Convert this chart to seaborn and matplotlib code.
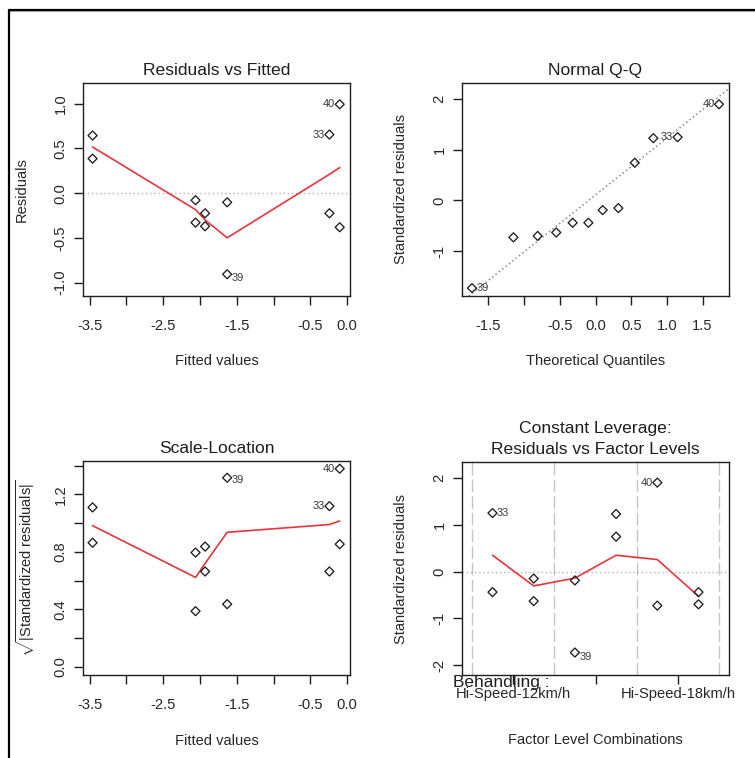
import numpy as np
import pandas as pd
import matplotlib
matplotlib.use("Agg")
import matplotlib.pyplot as plt
from matplotlib.lines import Line2D
import seaborn as sns

# ---- model diagnostics (one entry per observation, grouped by factor-level combination) ----
fitted = [-0.24, -0.24, -2.06, -2.06, -1.63, -1.63, -3.46, -3.46, -0.10, -0.10, -1.93, -1.93]
residuals = [0.654, -0.226, -0.080, -0.330, -0.103, -0.907, 0.643, 0.385, 0.992, -0.382, -0.226, -0.371]
std_residuals = [1.25, -0.44, -0.15, -0.632, -0.19, -1.73, 1.23, 0.745, 1.90, -0.728, -0.44, -0.70]
factor_combo = [0, 0, 1, 1, 2, 2, 3, 3, 4, 4, 5, 5]
obs_labels = ["33", "", "", "", "", "39", "", "", "40", "", "", ""]

# normal scores for 12 observations
theoretical_q = [-1.73, -1.15, -0.81, -0.55, -0.32, -0.10, 0.10, 0.32, 0.55, 0.81, 1.15, 1.73]

# lowess smooths
smooth_x = [-3.46, -2.06, -1.93, -1.63, -0.24, -0.10]
smooth_resid = [0.515, -0.185, -0.30, -0.50, 0.21, 0.285]
smooth_scale = [0.982, 0.622, 0.72, 0.936, 0.99, 1.015]
smooth_combo_x = [0, 1, 2, 3, 4, 5]
smooth_combo = [0.348, -0.307, -0.14, 0.348, 0.256, -0.528]

level_labels = ["Hi-Speed-12km/h", "", "Hi-Speed-18km/h"]
factor_name = "Behandling"

# ---- styling ----
sns.set_style("ticks")
plt.rcParams["font.family"] = ["Liberation Sans", "DejaVu Sans"]
plt.rcParams["mathtext.fontset"] = "custom"
plt.rcParams["mathtext.rm"] = "Liberation Sans"
plt.rcParams["mathtext.it"] = "Liberation Sans:italic"

INK = "#1e1e1e"
TXT = "#262626"
RED = "#e2363c"
GREY = "#b4b4b4"

df = pd.DataFrame({
    "fitted": fitted,
    "resid": residuals,
    "std": std_residuals,
    "combo": factor_combo,
    "label": obs_labels,
})
df["sqrt_abs"] = np.sqrt(np.abs(df["std"]))

qq = df.sort_values("std", kind="stable").reset_index(drop=True)
qq["theo"] = theoretical_q

fig = plt.figure(figsize=(7.55, 7.58), dpi=100)
W, H = 755, 758


def add_axes(left, top, right, bottom):
    return fig.add_axes([left / W, (H - bottom) / H, (right - left) / W, (bottom - top) / H])


def r_style(ax, xticks, xlabels, yticks, ylabels, xpad=10.0):
    for s in ax.spines.values():
        s.set_visible(True)
        s.set_color(INK)
        s.set_linewidth(1.0)
    ax.set_xticks(xticks)
    ax.set_xticklabels(xlabels)
    ax.set_yticks(yticks)
    ax.set_yticklabels(ylabels)
    ax.tick_params(direction="out", length=6.5, width=1.0, color=INK,
                   labelsize=10.6, labelcolor=TXT)
    ax.tick_params(axis="x", pad=xpad)
    ax.tick_params(axis="y", pad=4.5)
    plt.setp(ax.get_yticklabels(), rotation=90, va="center", ha="right")


def titles(ax, title_lines, xlabel, ylabel, ylabel_x=-0.23):
    n = len(title_lines)
    for i, line in enumerate(title_lines):
        ax.text(0.5, 1 + (12.5 + 21 * (n - 1 - i)) / 213, line, transform=ax.transAxes,
                ha="center", va="center", fontsize=12.6, color=INK)
    ax.set_xlabel(xlabel, fontsize=10.5, color=TXT, va="center")
    ax.xaxis.set_label_coords(0.5, -65.5 / 213)
    ax.set_ylabel(ylabel, fontsize=10.5, color=TXT, va="center")
    ax.yaxis.set_label_coords(ylabel_x, 0.5)


def points(ax, data, x, y):
    sns.scatterplot(data=data, x=x, y=y, ax=ax, marker="D", s=21,
                    facecolor="none", edgecolor=INK, linewidth=0.95,
                    legend=False, zorder=4)


def tag(ax, x, y, text, side, dy=0.0):
    dx = -3.2 if side == "left" else 3.2
    ax.annotate(text, (x, y), xytext=(dx, dy), textcoords="offset points",
                ha="right" if side == "left" else "left", va="center",
                fontsize=7.9, color="#3a3a3a")


def tag_all(ax, data, x, y, sides):
    for _, row in data[data["label"] != ""].iterrows():
        side, dy = sides[row["label"]]
        tag(ax, row[x], row[y], row["label"], side, dy)


fit_ticks = [-3.5, -3.0, -2.5, -2.0, -1.5, -1.0, -0.5, 0.0]
fit_labels = ["-3.5", "", "-2.5", "", "-1.5", "", "-0.5", "0.0"]

# ---- Residuals vs Fitted ----
ax1 = add_axes(83, 83, 350, 296)
ax1.axhline(0, color=GREY, lw=1.0, ls=(0, (1, 2)), zorder=1)
sns.lineplot(x=smooth_x, y=smooth_resid, ax=ax1, color=RED, lw=1.2, sort=False,
             estimator=None, zorder=3)
points(ax1, df, "fitted", "resid")
tag_all(ax1, df, "fitted", "resid", {"40": ("left", 0), "33": ("left", 0), "39": ("right", -3)})
ax1.set_xlim(-3.59, 0.04)
ax1.set_ylim(-1.15, 1.23)
r_style(ax1, fit_ticks, fit_labels, [-1.0, -0.5, 0.0, 0.5, 1.0],
        ["-1.0", "-0.5", "0.0", "0.5", "1.0"])
titles(ax1, ["Residuals vs Fitted"], "Fitted values", "Residuals")

# ---- Normal Q-Q ----
ax2 = add_axes(462, 83, 729, 296)
q25, q75 = np.quantile(qq["std"], [0.25, 0.75])
z = 0.6744898
slope = (q75 - q25) / (2 * z)
intercept = (q25 + q75) / 2
ax2.axline((0, intercept), slope=slope, color="#8a8a8a", lw=1.1, ls=(0, (1, 1.8)), zorder=1)
points(ax2, qq, "theo", "std")
tag_all(ax2, qq, "theo", "std", {"40": ("left", 0), "33": ("left", 0), "39": ("right", 0)})
ax2.set_xlim(-1.87, 1.87)
ax2.set_ylim(-1.886, 2.32)
r_style(ax2, [-1.5, -1.0, -0.5, 0.0, 0.5, 1.0, 1.5],
        ["-1.5", "", "-0.5", "0.0", "0.5", "1.0", "1.5"],
        [-1, 0, 1, 2], ["-1", "0", "1", "2"])
titles(ax2, ["Normal Q-Q"], "Theoretical Quantiles", "Standardized residuals")

# ---- Scale-Location ----
ax3 = add_axes(83, 461, 350, 675)
sns.lineplot(x=smooth_x, y=smooth_scale, ax=ax3, color=RED, lw=1.2, sort=False,
             estimator=None, zorder=3)
points(ax3, df, "fitted", "sqrt_abs")
tag_all(ax3, df, "fitted", "sqrt_abs", {"40": ("left", 0), "33": ("left", 0), "39": ("right", -1.5)})
ax3.set_xlim(-3.59, 0.04)
ax3.set_ylim(-0.057, 1.432)
r_style(ax3, fit_ticks, fit_labels, [0.0, 0.2, 0.4, 0.6, 0.8, 1.0, 1.2, 1.4],
        ["0.0", "", "0.4", "", "0.8", "", "1.2", ""])
titles(ax3, ["Scale-Location"], "Fitted values",
       r"$\sqrt{|\mathrm{Standardized\ residuals}|}$", ylabel_x=-0.215)

# ---- Constant Leverage: Residuals vs Factor Levels ----
ax4 = add_axes(462, 462, 729, 675)
n_levels = len(level_labels)
for b in range(n_levels + 1):
    ax4.axvline(2 * b - 0.5, color="#c4c4c4", lw=1.0, ls=(0, (9, 3)), zorder=1)
ax4.axhline(0, color=GREY, lw=1.0, ls=(0, (1, 2)), zorder=1)
sns.lineplot(x=smooth_combo_x, y=smooth_combo, ax=ax4, color=RED, lw=1.2, sort=False,
             estimator=None, zorder=3)
points(ax4, df, "combo", "std")
tag_all(ax4, df, "combo", "std", {"40": ("left", 0), "33": ("right", 0), "39": ("right", -3)})
ax4.set_xlim(-0.74, 5.74)
ax4.set_ylim(-2.21, 2.34)
r_style(ax4, [2 * (i + 0.5) - 0.5 for i in range(n_levels)], level_labels,
        [-2, -1, 0, 1, 2], ["-2", "-1", "0", "1", "2"], xpad=2.0)
titles(ax4, ["Constant Leverage:", "Residuals vs Factor Levels"],
       "Factor Level Combinations", "Standardized residuals")
ax4.text(-0.035, -12.0 / 213, f"{factor_name} :", transform=ax4.transAxes,
         ha="left", va="baseline", fontsize=12.4, color=INK)

# window frame
y_top = 1 - 9.5 / H
x_left = 8.5 / W
fig.add_artist(Line2D([x_left, 1], [y_top, y_top], color="black", lw=1.6))
fig.add_artist(Line2D([x_left + 1.5 / W, 1], [y_top - 1.6 / H, y_top - 1.6 / H], color="#a0a0a0", lw=0.8))
fig.add_artist(Line2D([x_left, x_left], [0, y_top], color="black", lw=1.6))

fig.savefig("out.png", dpi=100, facecolor="white")
